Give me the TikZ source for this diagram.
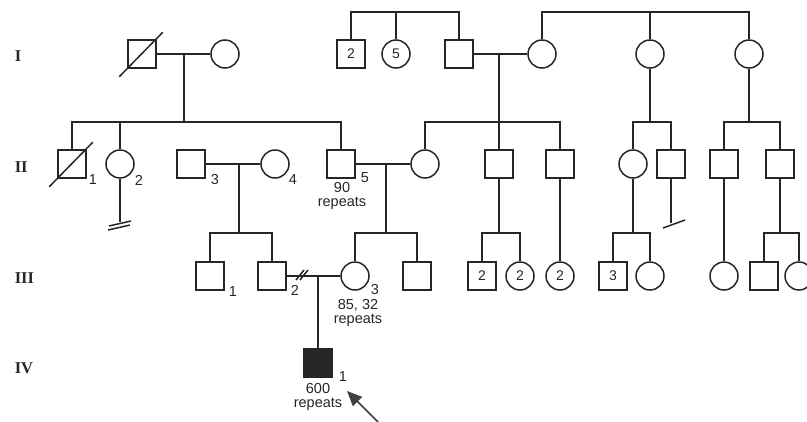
\documentclass[tikz,border=0pt]{standalone}
\usepackage{fontspec}
\setmainfont{Liberation Sans}
\newfontfamily\genfont{Liberation Serif}
\usetikzlibrary{arrows.meta}

\begin{document}
\begin{tikzpicture}[x=1pt, y=-1pt, line width=1.5pt, color=black!85,
    male/.style={shape=rectangle, draw, minimum size=28pt, inner sep=0pt, font=\fontsize{14}{14}\selectfont},
    female/.style={shape=circle, draw, minimum size=28pt, inner sep=0pt, font=\fontsize{14}{14}\selectfont},
    num/.style={inner sep=0pt, align=center, font=\fontsize{14.5}{14.5}\selectfont},
    gen/.style={anchor=west, inner sep=0pt, font=\genfont\bfseries\fontsize{16.5}{16.5}\selectfont}]
	\useasboundingbox (0,0) rectangle (807,421);
	% generations
	\node[gen] (gI) at (14,56) {I};
	\node[gen] (gII) at (14,167) {II};
	\node[gen] (gIII) at (14,278) {III};
	\node[gen] (gIV) at (14,368) {IV};
	% generation I
	\node[male] (I1) at (142,54) {};
	\node[female] (I2) at (225,54) {};
	\node[male] (I3) at (351,54) {2};
	\node[female] (I4) at (396,54) {5};
	\node[male] (I5) at (459,54) {};
	\node[female] (I6) at (542,54) {};
	\node[female] (I7) at (650,54) {};
	\node[female] (I8) at (749,54) {};
	% generation II
	\node[male] (II1) at (72,164) {};
	\node[female] (II2) at (120,164) {};
	\node[male] (II3) at (191,164) {};
	\node[female] (II4) at (275,164) {};
	\node[male] (II5) at (341,164) {};
	\node[female] (II6) at (425,164) {};
	\node[male] (II7) at (499,164) {};
	\node[male] (II8) at (560,164) {};
	\node[female] (II9) at (633,164) {};
	\node[male] (II10) at (671,164) {};
	\node[male] (II11) at (724,164) {};
	\node[male] (II12) at (780,164) {};
	% generation III
	\node[male] (III1) at (210,276) {};
	\node[male] (III2) at (272,276) {};
	\node[female] (III3) at (355,276) {};
	\node[male] (III4) at (417,276) {};
	\node[male] (III5) at (482,276) {2};
	\node[female] (III6) at (520,276) {2};
	\node[female] (III7) at (560,276) {2};
	\node[male] (III8) at (613,276) {3};
	\node[female] (III9) at (650,276) {};
	\node[female] (III10) at (724,276) {};
	\node[male] (III11) at (764,276) {};
	\node[female] (III12) at (799,276) {};
	% generation IV
	\node[male, fill=black!85] (IV1) at (318,363) {};
	% labels
	\node[num] (l21) at (93,180) {1};
	\node[num] (l22) at (139,180) {2};
	\node[num] (l23) at (215,180) {3};
	\node[num] (l24) at (293,180) {4};
	\node[num] (l25) at (365,178) {5};
	\node[num] (r25) at (342,196) {90\\repeats};
	\node[num] (l31) at (233,292) {1};
	\node[num] (l32) at (295,290) {2};
	\node[num] (l33) at (375,290) {3};
	\node[num] (r33) at (358,313) {85, 32\\repeats};
	\node[num] (l41) at (343,377) {1};
	\node[num] (r41) at (318,397) {600\\repeats};
	% deceased
	\draw ([shift={(-8,8)}]I1.south west) -- ([shift={(6,-7)}]I1.north east);
	\draw ([shift={(-8,8)}]II1.south west) -- ([shift={(6,-7)}]II1.north east);
	% sibships of generation I
	\coordinate (t1) at (396,12);
	\draw (I3.north) |- (t1) -| (I5.north);
	\draw (I4) -- (t1);
	\coordinate (t2) at (650,12);
	\draw (I6.north) |- (t2) -| (I8.north);
	\draw (I7) -- (t2);
	% children of generation I
	\draw (I1) -- (I2);
	\coordinate (s1) at (184,122);
	\draw (s1 |- I1) -- (s1);
	\draw (II1.north) |- (s1) -| (II5.north);
	\draw (II2) -- (II2 |- s1);
	\draw (I5) -- (I6);
	\coordinate (s2) at (499,122);
	\draw (s2 |- I5) -- (s2);
	\draw (II6.north) |- (s2) -| (II8.north);
	\draw (II7) -- (s2);
	\coordinate (s3) at (650,122);
	\draw (I7) -- (s3);
	\draw (II9.north) |- (s3) -| (II10.north);
	\coordinate (s4) at (749,122);
	\draw (I8) -- (s4);
	\draw (II11.north) |- (s4) -| (II12.north);
	% children of generation II
	\coordinate (e2) at (120,222);
	\draw (II2) -- (e2);
	\draw ([shift={(-11,4)}]e2) -- ++(22,-5);
	\draw ([shift={(-12,8)}]e2) -- ++(22,-5);
	\draw (II3) -- (II4);
	\coordinate (s5) at (239,233);
	\draw (s5 |- II3) -- (s5);
	\draw (III1.north) |- (s5) -| (III2.north);
	\draw (II5) -- (II6);
	\coordinate (s6) at (386,233);
	\draw (s6 |- II5) -- (s6);
	\draw (III3.north) |- (s6) -| (III4.north);
	\coordinate (s7) at (499,233);
	\draw (II7) -- (s7);
	\draw (III5.north) |- (s7) -| (III6.north);
	\draw (II8) -- (III7);
	\coordinate (s8) at (633,233);
	\draw (II9) -- (s8);
	\draw (III8.north) |- (s8) -| (III9.north);
	\coordinate (e10) at (671,223);
	\draw (II10) -- (e10);
	\draw ([shift={(-8,5)}]e10) -- ++(22,-8);
	\draw (II11) -- (III10);
	\coordinate (s9) at (780,233);
	\draw (II12) -- (s9);
	\draw (III11.north) |- (s9) -| (III12.north);
	% child of generation III
	\draw (III2) -- (III3);
	\coordinate (b3) at (300,275);
	\draw ([shift={(-4,5)}]b3) -- ++(8,-10);
	\draw ([shift={(0,5)}]b3) -- ++(8,-10);
	\coordinate (s10) at (318,276);
	\draw (s10) -- (IV1);
	% proband
	\coordinate (a0) at (378,422);
	\coordinate (a1) at (347,391);
	\draw[-{Triangle[length=15pt,width=13pt]}, black!75] (a0) -- (a1);
\end{tikzpicture}
\end{document}
